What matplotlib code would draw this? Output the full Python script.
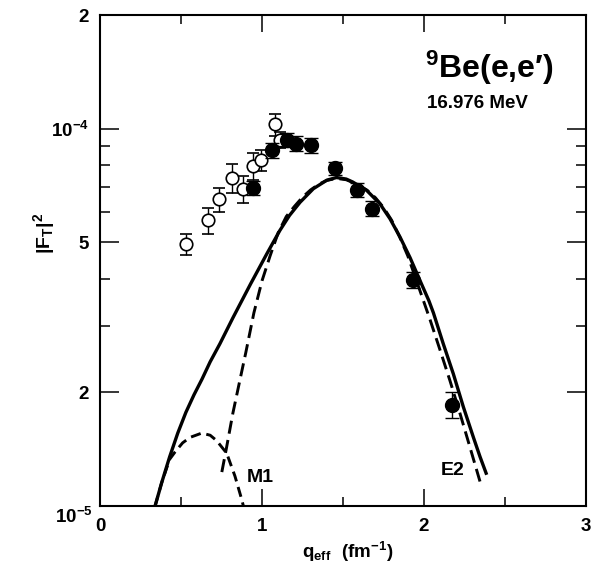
import matplotlib
matplotlib.use("Agg")
import matplotlib.pyplot as plt
from matplotlib.ticker import FixedLocator, FixedFormatter, NullFormatter

plt.rcParams['font.family'] = ['Liberation Sans', 'DejaVu Sans']
plt.rcParams['font.weight'] = 'bold'
plt.rcParams['mathtext.fontset'] = 'custom'
plt.rcParams['mathtext.rm'] = 'Liberation Sans:bold'
plt.rcParams['mathtext.it'] = 'Liberation Sans:bold'
plt.rcParams['mathtext.bf'] = 'Liberation Sans:bold'
plt.rcParams['mathtext.default'] = 'rm'

# ---- data ----
open_q = [0.531, 0.665, 0.736, 0.813, 0.885, 0.947, 0.992, 1.080, 1.111]
open_F = [4.94e-5, 5.72e-5, 6.50e-5, 7.42e-5, 6.92e-5, 7.95e-5, 8.24e-5, 1.027e-4, 9.35e-5]
open_hi = [5.25e-5, 6.17e-5, 6.98e-5, 8.08e-5, 7.48e-5, 8.62e-5, 8.76e-5, 1.096e-4, 9.80e-5]
open_lo = [4.62e-5, 5.25e-5, 6.02e-5, 6.76e-5, 6.34e-5, 7.33e-5, 7.71e-5, 9.58e-5, 8.90e-5]

fill_q = [0.946, 1.060, 1.156, 1.210, 1.302, 1.451, 1.584, 1.677, 1.934, 2.170]
fill_F = [6.95e-5, 8.76e-5, 9.35e-5, 9.13e-5, 9.03e-5, 7.84e-5, 6.87e-5, 6.14e-5, 3.97e-5, 1.85e-5]
fill_hi = [7.25e-5, 9.14e-5, 9.75e-5, 9.53e-5, 9.43e-5, 8.16e-5, 7.17e-5, 6.43e-5, 4.17e-5, 2.01e-5]
fill_lo = [6.65e-5, 8.38e-5, 8.95e-5, 8.73e-5, 8.63e-5, 7.52e-5, 6.57e-5, 5.85e-5, 3.77e-5, 1.71e-5]

total_q = [0.34, 0.38, 0.43, 0.48, 0.53, 0.58, 0.63, 0.68, 0.74, 0.82, 0.93, 1.03, 1.11, 1.17,
           1.235, 1.317, 1.40, 1.46, 1.52, 1.56, 1.646, 1.728, 1.79, 1.852, 1.914, 1.975,
           2.03, 2.058, 2.119, 2.181, 2.243, 2.305, 2.346, 2.387]
total_F = [1.0e-5, 1.15e-5, 1.35e-5, 1.56e-5, 1.77e-5, 1.97e-5, 2.17e-5, 2.41e-5, 2.69e-5,
           3.15e-5, 3.88e-5, 4.66e-5, 5.37e-5, 5.89e-5, 6.38e-5, 6.93e-5, 7.30e-5, 7.42e-5,
           7.35e-5, 7.22e-5, 6.86e-5, 6.32e-5, 5.77e-5, 5.16e-5, 4.55e-5, 3.96e-5, 3.50e-5,
           3.25e-5, 2.69e-5, 2.24e-5, 1.83e-5, 1.52e-5, 1.35e-5, 1.21e-5]

e2_q = [0.752, 0.78, 0.82, 0.86, 0.90, 0.95, 1.00, 1.05, 1.10, 1.15, 1.20, 1.25, 1.30, 1.35,
        1.40, 1.46, 1.52, 1.60, 1.65, 1.70, 1.75, 1.80, 1.85, 1.90, 1.975, 2.037, 2.099,
        2.16, 2.222, 2.284, 2.346]
e2_F = [1.23e-5, 1.42e-5, 1.76e-5, 2.12e-5, 2.55e-5, 3.25e-5, 3.95e-5, 4.60e-5, 5.30e-5,
        5.85e-5, 6.22e-5, 6.58e-5, 6.88e-5, 7.12e-5, 7.29e-5, 7.38e-5, 7.32e-5, 7.08e-5,
        6.86e-5, 6.56e-5, 6.18e-5, 5.72e-5, 5.16e-5, 4.60e-5, 3.72e-5, 3.12e-5, 2.59e-5,
        2.15e-5, 1.76e-5, 1.43e-5, 1.16e-5]

m1_q = [0.34, 0.38, 0.43, 0.463, 0.51, 0.556, 0.628, 0.68, 0.72, 0.782, 0.833, 0.875, 0.885]
m1_F = [1.0e-5, 1.15e-5, 1.33e-5, 1.39e-5, 1.47e-5, 1.52e-5, 1.56e-5, 1.54e-5, 1.49e-5,
        1.38e-5, 1.20e-5, 1.04e-5, 1.0e-5]

y_major = [1e-5, 2e-5, 5e-5, 1e-4, 2e-4]
y_major_labels = ['', '2', '5', r'$10^{-4}$', '2']
y_minor = [3e-5, 4e-5, 6e-5, 7e-5, 8e-5, 9e-5]
x_major = [0, 1, 2, 3]
x_minor = [0.5, 1.5, 2.5]

# ---- figure ----
fig = plt.figure(figsize=(5.94, 5.80), dpi=100)
ax = fig.add_axes([100/594, 74/580, 486/594, 491/580])
ax.set_yscale('log')
ax.set_xlim(0, 3)
ax.set_ylim(1e-5, 2e-4)

ax.plot(total_q, total_F, color='black', lw=2.4, solid_capstyle='butt',
        solid_joinstyle='round', zorder=3)
ax.plot(e2_q, e2_F, color='black', lw=2.1, dashes=(4.5, 2.2), zorder=3)
ax.plot(m1_q, m1_F, color='black', lw=2.1, dashes=(3.5, 2.0), zorder=3)

def err(vals, hi, lo):
    return [[v - l for v, l in zip(vals, lo)], [h - v for v, h in zip(vals, hi)]]

ax.errorbar(open_q, open_F, yerr=err(open_F, open_hi, open_lo), fmt='o', ms=9,
            mfc='white', mec='black', mew=1.2, ecolor='black', elinewidth=1.0,
            capsize=4.3, capthick=1.0, zorder=4)
ax.errorbar(fill_q, fill_F, yerr=err(fill_F, fill_hi, fill_lo), fmt='o', ms=10,
            mfc='black', mec='black', ecolor='black', elinewidth=1.0,
            capsize=5.0, capthick=1.0, zorder=5)

# axes styling
for s in ax.spines.values():
    s.set_linewidth(1.5)
ax.yaxis.set_major_locator(FixedLocator(y_major))
ax.yaxis.set_major_formatter(FixedFormatter(y_major_labels))
ax.yaxis.set_minor_locator(FixedLocator(y_minor))
ax.yaxis.set_minor_formatter(NullFormatter())
ax.xaxis.set_major_locator(FixedLocator(x_major))
ax.xaxis.set_minor_locator(FixedLocator(x_minor))
ax.xaxis.set_minor_formatter(NullFormatter())
ax.tick_params(which='both', direction='in', top=True, right=True, width=1.1,
               labelsize=13.5)
ax.tick_params(axis='y', which='major', length=13.5, pad=8)
ax.tick_params(axis='y', which='minor', length=7)
ax.tick_params(axis='x', which='major', length=12, pad=8.5)
ax.tick_params(axis='x', which='minor', length=6.5)

ax.annotate(r'$10^{-5}$', xy=(0, 1e-5), xycoords=('axes fraction', 'data'),
            xytext=(-5, -8), textcoords='offset points', ha='right', va='center',
            fontsize=13.5, fontweight='bold')

ax.set_ylabel(r'$|F_T|^2$', fontsize=14)
ax.yaxis.set_label_coords(-0.088, 0.556)
ax.set_xlabel(r'$q_{eff}\ \ (fm^{-1})$', fontsize=13.5)
ax.xaxis.set_label_coords(0.51, -0.069)

ax.text(0.669, 0.872, r'$^{9}$Be(e,e′)', transform=ax.transAxes, fontsize=23,
        fontweight='bold', ha='left', va='baseline')
ax.text(0.6728, 0.8106, '16.976 MeV', transform=ax.transAxes, fontsize=13.5,
        fontweight='bold', ha='left', va='baseline')
ax.text(0.3025, 0.049, 'M1', transform=ax.transAxes, fontsize=14,
        fontweight='bold', ha='left', va='baseline')
ax.text(0.7016, 0.063, 'E2', transform=ax.transAxes, fontsize=14,
        fontweight='bold', ha='left', va='baseline')

fig.savefig('out.png', dpi=100)
